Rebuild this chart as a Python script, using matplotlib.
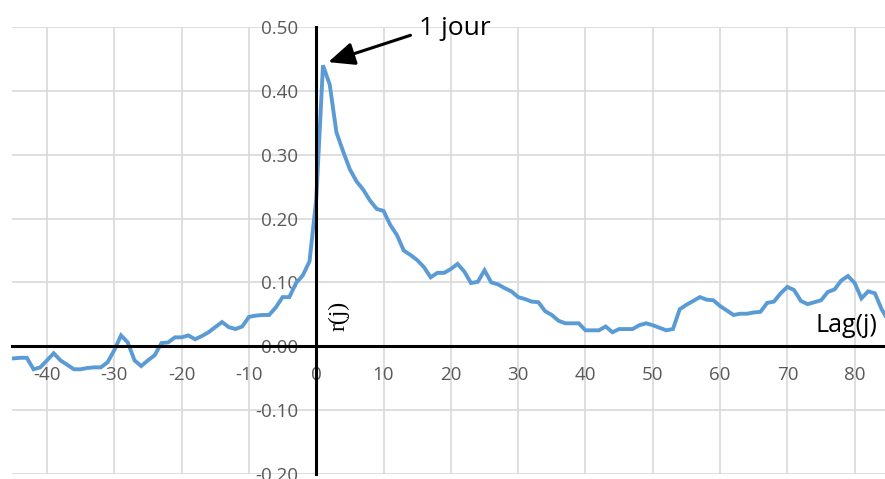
import numpy as np
import matplotlib
matplotlib.use("Agg")
import matplotlib.pyplot as plt

# lag (jours) et coefficient de correlation croisee r(j)
lags = list(range(-46, 86))
r_values = [
    -0.019, -0.019, -0.018, -0.018, -0.036, -0.033, -0.022, -0.011, -0.022, -0.029,   # -46..-37
    -0.036, -0.036, -0.034, -0.033, -0.033, -0.025, -0.006, 0.017, 0.006, -0.022,     # -36..-27
    -0.031, -0.022, -0.014, 0.005, 0.006, 0.014, 0.014, 0.017, 0.011, 0.016,          # -26..-17
    0.022, 0.030, 0.038, 0.030, 0.027, 0.031, 0.046, 0.048, 0.049, 0.049,             # -16..-7
    0.061, 0.077, 0.077, 0.099, 0.111, 0.133, 0.230, 0.440, 0.410, 0.335,             # -6..3
    0.305, 0.277, 0.258, 0.245, 0.228, 0.215, 0.212, 0.190, 0.174, 0.150,             # 4..13
    0.143, 0.135, 0.124, 0.108, 0.115, 0.115, 0.121, 0.129, 0.117, 0.099,             # 14..23
    0.101, 0.119, 0.100, 0.097, 0.091, 0.086, 0.077, 0.074, 0.070, 0.069,             # 24..33
    0.055, 0.049, 0.040, 0.036, 0.036, 0.036, 0.025, 0.025, 0.025, 0.031,             # 34..43
    0.022, 0.027, 0.027, 0.027, 0.033, 0.036, 0.033, 0.029, 0.025, 0.027,             # 44..53
    0.058, 0.065, 0.071, 0.077, 0.073, 0.072, 0.063, 0.056, 0.049, 0.051,             # 54..63
    0.051, 0.053, 0.054, 0.068, 0.070, 0.083, 0.093, 0.088, 0.071, 0.066,             # 64..73
    0.069, 0.072, 0.085, 0.089, 0.103, 0.110, 0.099, 0.075, 0.086, 0.083,             # 74..83
    0.058, 0.040,                                                                     # 84..85
]

x_ticks = list(range(-40, 81, 10))
y_ticks = [-0.20, -0.10, 0.00, 0.10, 0.20, 0.30, 0.40, 0.50]
y_labels = ["%.2f" % v for v in y_ticks]

plt.rcParams['font.family'] = ['Open Sans', 'DejaVu Sans']
plt.rcParams['axes.unicode_minus'] = False

fig = plt.figure(figsize=(8.85, 4.79), dpi=100)
ax = fig.add_axes([12 / 885, 5 / 479, 873 / 885, 447 / 479])

ax.plot(lags, r_values, color="#5b9bd5", lw=2.8, zorder=3, solid_joinstyle="miter")

ax.set_xlim(-45.2, 84.5)
ax.set_ylim(-0.20, 0.50)

ax.set_xticks(x_ticks)
ax.set_yticks(y_ticks)
ax.set_yticklabels(y_labels)
ax.grid(True, color="#d9d9d9", lw=1.2)
ax.set_axisbelow(True)

for side in ["top", "right"]:
    ax.spines[side].set_visible(False)
ax.spines["left"].set_position(("data", 0))
ax.spines["bottom"].set_position(("data", 0))
for side in ["left", "bottom"]:
    ax.spines[side].set_linewidth(2.2)
    ax.spines[side].set_color("black")
    ax.spines[side].set_zorder(4)

ax.tick_params(axis="both", length=0, labelsize=13.5, labelcolor="#595959")
ax.tick_params(axis="y", pad=13)
ax.tick_params(axis="x", pad=14)

# annotations
ax.annotate("", xy=(1.78, 0.445), xytext=(14.0, 0.487),
            arrowprops=dict(arrowstyle="-|>,head_length=0.8,head_width=0.35",
                            mutation_scale=20, color="black", lw=2.2,
                            shrinkA=0, shrinkB=0),
            annotation_clip=False, zorder=5)
ax.text(15.2, 0.497, "1 jour", fontsize=19, color="black", ha="left", va="center")
ax.text(3.3, 0.047, "r(j)", fontsize=17, family="Liberation Serif",
        rotation=90, ha="center", va="center", color="black")
ax.text(78.8, 0.033, "Lag(j)", fontsize=18, ha="center", va="center", color="black")

fig.savefig("out.png", dpi=100)
